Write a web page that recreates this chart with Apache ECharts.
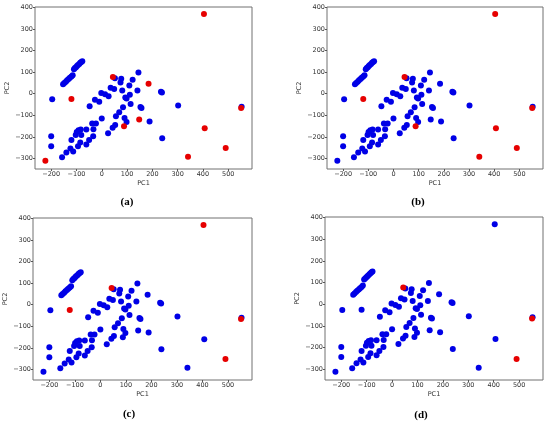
<!DOCTYPE html>
<html>
<head>
<meta charset="utf-8">
<script src="https://cdn.jsdelivr.net/npm/echarts@6/dist/echarts.min.js"></script>
<style>
  html, body { margin: 0; padding: 0; background: #fff; }
  #chart { width: 550px; height: 424px; }
</style>
</head>
<body>
<div id="chart"></div>
<script>
// PCA scores (PC1, PC2) shared by all four panels
var basePoints = [
  [-153, 44], [-148, 50], [-142, 56], [-137, 62], [-131, 68], [-126, 74], [-120, 80], [-115, 86],
  [-110, 114], [-106, 119], [-102, 123], [-98, 128], [-94, 133], [-89, 138], [-85, 143], [-81, 147], [-77, 151],
  [-196, -26], [-200, -197], [-200, -243], [-157, -295], [-140, -272], [-124, -254], [-113, -268],
  [-120, -215], [-103, -191], [-99, -177], [-92, -169], [-83, -166], [-81, -191], [-94, -243],
  [-85, -226], [-61, -235], [-61, -166], [-50, -215], [-38, -138], [-34, -197], [-33, -165],
  [-23, -138], [-48, -58], [-27, -28], [-10, -37], [-2, 3], [13, -3], [27, -12], [0, -115],
  [25, -183], [43, -158], [53, -145], [56, -105], [69, -86], [84, -63], [35, 28], [49, 22],
  [52, 72], [74, 52], [77, 69], [81, 15], [93, -18], [98, -22], [90, -112], [98, -131],
  [109, 38], [111, -5], [122, 65], [114, -48], [145, 98], [141, 15], [153, -62], [157, -66],
  [189, -129], [234, 9], [238, 6], [302, -55], [239, -206], [553, -60]
];

// points that are highlighted in at least one panel
var specialPoints = [
  [404, 369], [-223, -311], [-120, -25], [44, 77], [185, 46], [148, -120],
  [88, -151], [341, -292], [407, -160], [490, -252], [551, -66]
];

// indices into specialPoints drawn red in each panel
var redA = [0, 1, 2, 3, 4, 5, 6, 7, 8, 9, 10];
var redB = [0, 2, 3, 6, 7, 8, 9, 10];
var redC = [0, 2, 3, 9, 10];
var redD = [3, 9, 10];

var xTicks = [-200, -100, 0, 100, 200, 300, 400, 500];
var yTicks = [-300, -200, -100, 0, 100, 200, 300, 400];
var captions = ['(a)', '(b)', '(c)', '(d)'];

var BLUE = '#0000e6';
var RED = '#e60000';

var grids = [
  { left: 35, top: 7, width: 217, height: 162 },
  { left: 327, top: 7, width: 216, height: 162 },
  { left: 33, top: 218, width: 219, height: 162 },
  { left: 325, top: 217, width: 218, height: 163 }
];
var captionPos = [[127, 202], [418, 202], [129, 414], [421, 415]];

function minus(v) { return String(v).replace('-', '\u2212'); }

var chart = echarts.init(document.getElementById('chart'));

var option = {
  backgroundColor: '#fff',
  animation: false,
  grid: [], xAxis: [], yAxis: [], series: [], graphic: []
};

[redA, redB, redC, redD].forEach(function(red, i) {
  var g = grids[i];
  option.grid.push({ left: g.left, top: g.top, width: g.width, height: g.height,
    show: true, borderColor: '#707070', borderWidth: 1, backgroundColor: '#fff' });

  var textStyle = { fontFamily: 'DejaVu Sans', fontSize: 6.5, color: '#333' };
  option.xAxis.push({
    type: 'value', gridIndex: i, min: -264, max: 594,
    name: 'PC1', nameLocation: 'middle', nameGap: 11, nameTextStyle: textStyle,
    axisLine: { show: false, onZero: false },
    splitLine: { show: false },
    axisTick: { show: true, length: 2, lineStyle: { color: '#555' }, customValues: xTicks },
    axisLabel: Object.assign({ margin: 2, customValues: xTicks, formatter: minus }, textStyle)
  });
  option.yAxis.push({
    type: 'value', gridIndex: i, min: -349, max: 402,
    name: 'PC2', nameLocation: 'middle', nameGap: 22, nameTextStyle: textStyle,
    axisLine: { show: false, onZero: false },
    splitLine: { show: false },
    axisTick: { show: true, length: 2, lineStyle: { color: '#555' }, customValues: yTicks },
    axisLabel: Object.assign({ margin: 2, customValues: yTicks, formatter: minus }, textStyle)
  });

  var blue = basePoints.slice();
  var reds = [];
  specialPoints.forEach(function(p, k) {
    if (red.indexOf(k) >= 0) reds.push(p); else blue.push(p);
  });
  option.series.push({
    type: 'scatter', xAxisIndex: i, yAxisIndex: i, data: blue,
    symbolSize: 6, itemStyle: { color: BLUE, opacity: 1 }
  });
  option.series.push({
    type: 'scatter', xAxisIndex: i, yAxisIndex: i, data: reds,
    symbolSize: 6, itemStyle: { color: RED, opacity: 1 }
  });

  option.graphic.push({
    type: 'text', x: captionPos[i][0], y: captionPos[i][1],
    style: { text: captions[i], fontFamily: 'Liberation Serif', fontWeight: 'bold',
      fontSize: 11, fill: '#000', align: 'center', verticalAlign: 'middle' }
  });
});

chart.setOption(option);
</script>
</body>
</html>
